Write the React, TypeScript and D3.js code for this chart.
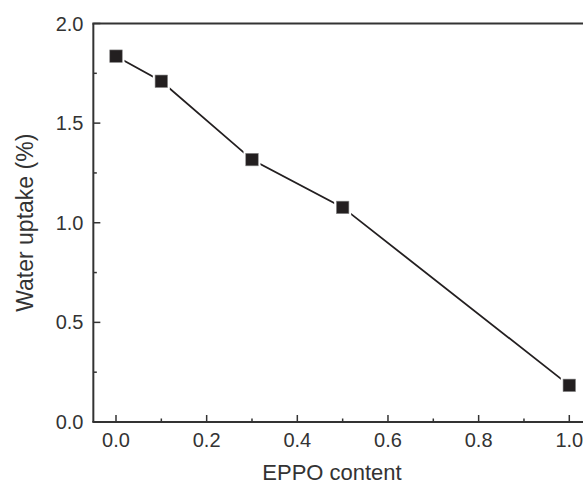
import React from "react";
import * as d3 from "d3";

const eppoContent = [0.0, 0.1, 0.3, 0.5, 1.0];
const waterUptake = [1.836, 1.71, 1.317, 1.077, 0.184];
const xTickValues = [0.0, 0.2, 0.4, 0.6, 0.8, 1.0];
const xMinorValues = [0.1, 0.3, 0.5, 0.7, 0.9];
const yTickValues = [0.0, 0.5, 1.0, 1.5, 2.0];
const yMinorValues = [0.25, 0.75, 1.25, 1.75];

const W = 583;
const H = 487;
const FONT = "'Liberation Sans', Arial, Helvetica, sans-serif";
const INK = "#231f20";

export default function App() {
  const x0 = 116;
  const x1 = 569.3;
  const span = x1 - x0;
  const x = d3.scaleLinear().domain([-0.05, 1.05]).range([x0 - 0.05 * span, x1 + 0.05 * span]);
  const y = d3.scaleLinear().domain([0, 2]).range([422, 23.5]);

  const [xl, xr] = x.range();
  const [yb, yt] = y.range();

  const line = d3
    .line<number>()
    .x((_, i) => x(eppoContent[i]))
    .y((d) => y(d));

  const sq = 12.5;
  const gap = 17;

  return (
    <svg
      width={W}
      height={H}
      style={{ position: "fixed", left: 0, top: 0, background: "#fff" }}
    >
      <rect x={0} y={0} width={W} height={H} fill="#fff" />
      <path d={line(waterUptake) || ""} fill="none" stroke={INK} strokeWidth={1.8} />
      {waterUptake.map((v, i) => (
        <g key={i}>
          <rect
            x={x(eppoContent[i]) - gap / 2}
            y={y(v) - gap / 2}
            width={gap}
            height={gap}
            fill="#fff"
          />
          <rect
            x={x(eppoContent[i]) - sq / 2}
            y={y(v) - sq / 2}
            width={sq}
            height={sq}
            fill={INK}
            stroke="#8a8a8a"
            strokeWidth={0.6}
          />
        </g>
      ))}
      <line x1={xl} x2={xl} y1={yt} y2={yb} stroke="#333" strokeWidth={2} />
      <line x1={xl - 1} x2={xr} y1={yb} y2={yb} stroke="#333" strokeWidth={2} />
      <line x1={xl - 1} x2={xr} y1={yt} y2={yt} stroke="#333" strokeWidth={2} />
      <line x1={xr} x2={xr} y1={yt} y2={yb} stroke="#333" strokeWidth={2} />
      {xTickValues.map((t) => (
        <g key={"xt" + t}>
          <line x1={x(t)} x2={x(t)} y1={yb} y2={yb - 7} stroke="#333" strokeWidth={1.5} />
          <text
            x={x(t)}
            y={447}
            textAnchor="middle"
            fontFamily={FONT}
            fontSize={20}
            fill="#333"
          >
            {d3.format(".1f")(t)}
          </text>
        </g>
      ))}
      {xMinorValues.map((t) => (
        <line key={"xm" + t} x1={x(t)} x2={x(t)} y1={yb} y2={yb - 3.5} stroke="#333" strokeWidth={1.5} />
      ))}
      {yTickValues.map((t) => (
        <g key={"yt" + t}>
          <line x1={xl} x2={xl + 7} y1={y(t)} y2={y(t)} stroke="#333" strokeWidth={1.5} />
          <text
            x={83.5}
            y={y(t) + 7}
            textAnchor="end"
            fontFamily={FONT}
            fontSize={20}
            fill="#333"
          >
            {d3.format(".1f")(t)}
          </text>
        </g>
      ))}
      {yMinorValues.map((t) => (
        <line key={"ym" + t} x1={xl} x2={xl + 3.5} y1={y(t)} y2={y(t)} stroke="#333" strokeWidth={1.5} />
      ))}
      <text
        x={332}
        y={480}
        textAnchor="middle"
        fontFamily={FONT}
        fontSize={22}
        fill="#333"
      >
        EPPO content
      </text>
      <text
        transform={`translate(33, ${(yt + yb) / 2}) rotate(-90)`}
        textAnchor="middle"
        fontFamily={FONT}
        fontSize={23}
        fill="#333"
      >
        Water uptake (%)
      </text>
    </svg>
  );
}
